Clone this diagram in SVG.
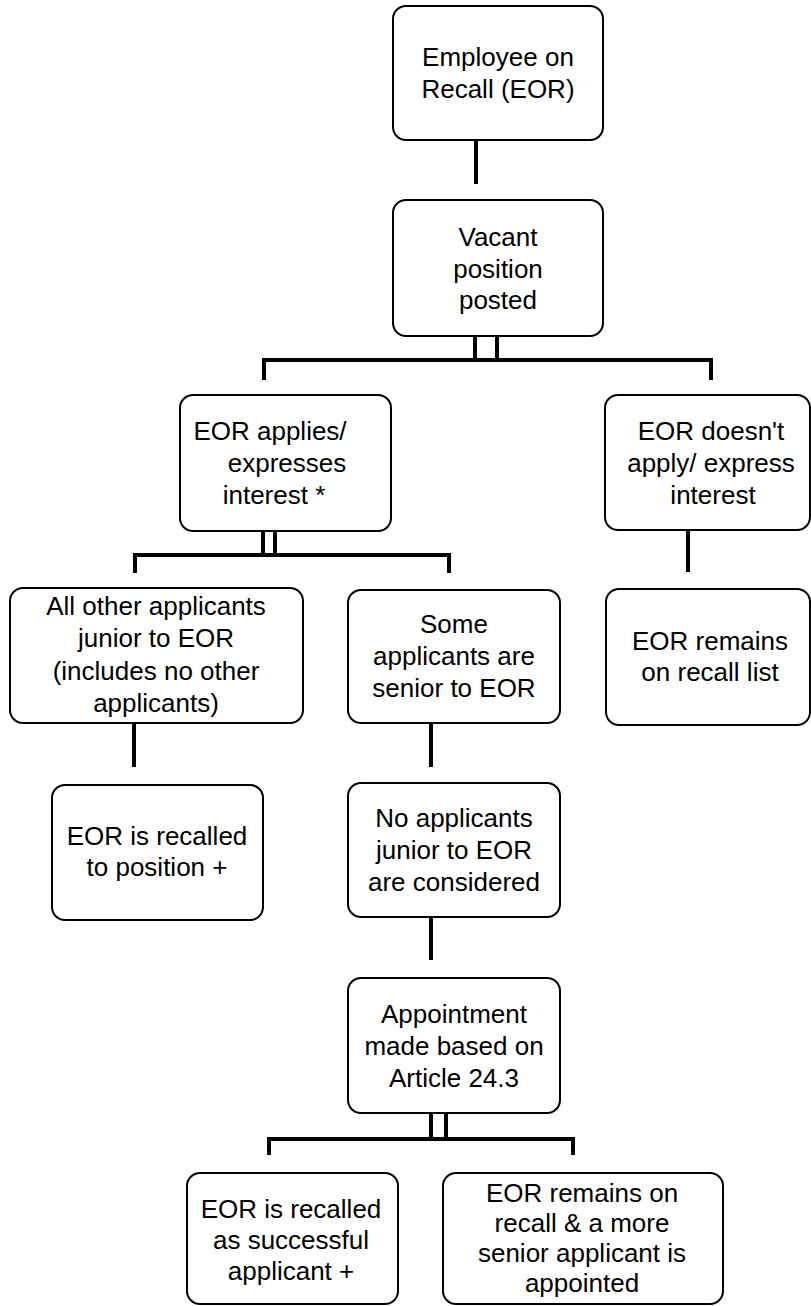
<svg xmlns="http://www.w3.org/2000/svg" width="811" height="1306" viewBox="0 0 811 1306">
<style>
.box{fill:#fff;stroke:#000;stroke-width:2}
.t{font-family:"Liberation Sans",Arial,sans-serif;font-size:26px;fill:#000;text-anchor:middle}
.c{fill:none;stroke:#000;stroke-width:4}
</style>
<rect width="811" height="1306" fill="#fff"/>
<g id="connectors">
<path class="c" d="M476,140 V184"/>
<path class="c" d="M475,336 V360 M497,336 V360"/>
<path class="c" d="M264,380 V360 H711 V380"/>
<path class="c" d="M263,531 V555 M275,531 V555"/>
<path class="c" d="M135,573 V555 H449 V573"/>
<path class="c" d="M688,530 V572"/>
<path class="c" d="M134,723 V767"/>
<path class="c" d="M431,723 V767"/>
<path class="c" d="M431,917 V960"/>
<path class="c" d="M431,1113 V1139 M446,1113 V1139"/>
<path class="c" d="M269,1155 V1139 H573 V1155"/>
</g>
<g id="n1"><rect class="box" x="393" y="6" width="210" height="134" rx="13"/>
<text class="t" x="498"><tspan x="498" y="66">Employee on</tspan><tspan x="498" y="98">Recall (EOR)</tspan></text></g>
<g id="n2"><rect class="box" x="393" y="200" width="210" height="136" rx="13"/>
<text class="t"><tspan x="498" y="246">Vacant</tspan><tspan x="498" y="278">position</tspan><tspan x="498" y="309">posted</tspan></text></g>
<g id="n3"><rect class="box" x="180" y="395" width="211" height="136" rx="13"/>
<text class="t"><tspan x="270" y="440">EOR applies/</tspan><tspan x="287" y="472">expresses</tspan><tspan x="274" y="504">interest *</tspan></text></g>
<g id="n4"><rect class="box" x="605" y="395" width="205" height="135" rx="13"/>
<text class="t"><tspan x="711" y="440">EOR doesn't</tspan><tspan x="711" y="472">apply/ express</tspan><tspan x="713" y="504">interest</tspan></text></g>
<g id="n5"><rect class="box" x="10" y="588" width="293" height="135" rx="13"/>
<text class="t"><tspan x="156" y="615">All other applicants</tspan><tspan x="156" y="647">junior to EOR</tspan><tspan x="156" y="680">(includes no other</tspan><tspan x="156" y="712">applicants)</tspan></text></g>
<g id="n6"><rect class="box" x="348" y="590" width="212" height="133" rx="13"/>
<text class="t"><tspan x="454" y="633">Some</tspan><tspan x="454" y="665">applicants are</tspan><tspan x="454" y="697">senior to EOR</tspan></text></g>
<g id="n7"><rect class="box" x="606" y="589" width="204" height="136" rx="13"/>
<text class="t"><tspan x="710" y="650">EOR remains</tspan><tspan x="710" y="681">on recall list</tspan></text></g>
<g id="n8"><rect class="box" x="52" y="785" width="211" height="135" rx="13"/>
<text class="t"><tspan x="157" y="845">EOR is recalled</tspan><tspan x="157" y="876">to position +</tspan></text></g>
<g id="n9"><rect class="box" x="348" y="783" width="212" height="134" rx="13"/>
<text class="t"><tspan x="454" y="827">No applicants</tspan><tspan x="454" y="859">junior to EOR</tspan><tspan x="454" y="891">are considered</tspan></text></g>
<g id="n10"><rect class="box" x="348" y="978" width="212" height="135" rx="13"/>
<text class="t"><tspan x="454" y="1023">Appointment</tspan><tspan x="454" y="1055">made based on</tspan><tspan x="454" y="1087">Article 24.3</tspan></text></g>
<g id="n11"><rect class="box" x="187" y="1173" width="211" height="131" rx="13"/>
<text class="t"><tspan x="291" y="1218">EOR is recalled</tspan><tspan x="291" y="1249">as successful</tspan><tspan x="291" y="1280">applicant +</tspan></text></g>
<g id="n12"><rect class="box" x="443" y="1173" width="280" height="131" rx="13"/>
<text class="t"><tspan x="582" y="1202">EOR remains on</tspan><tspan x="582" y="1232">recall &amp; a more</tspan><tspan x="582" y="1262">senior applicant is</tspan><tspan x="582" y="1292">appointed</tspan></text></g>
</svg>
